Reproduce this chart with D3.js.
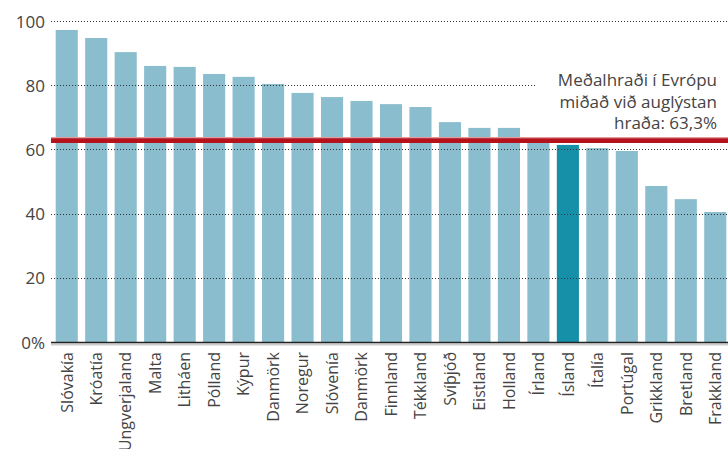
<!DOCTYPE html>
<html>
<head>
<meta charset="utf-8">
<script src="https://cdn.jsdelivr.net/npm/d3@7"></script>
<style>
  body { margin: 0; background: #fff; }
  text { font-family: "Open Sans", sans-serif; fill: #444; }
</style>
</head>
<body>
<script>
// Chart size
const WIDTH = 728;
const HEIGHT = 449;

// Data
const countries = ["Slóvakía", "Króatía", "Ungverjaland", "Malta", "Litháen", "Pólland", "Kýpur",
  "Danmörk", "Noregur", "Slóvenía", "Danmörk ", "Finnland", "Tékkland", "Svíþjóð", "Eistland",
  "Holland", "Írland", "Ísland", "Ítalía", "Portúgal", "Grikkland", "Bretland", "Frakkland"];
const speeds = [97.2, 94.7, 90.3, 86.0, 85.7, 83.5, 82.6, 80.4, 77.6, 76.3, 75.1, 74.1, 73.2,
  68.5, 66.7, 66.7, 62.8, 61.4, 60.4, 59.5, 48.6, 44.5, 40.5];
const highlight = "Ísland";
const yTicks = [0, 20, 40, 60, 80, 100];
const average = 63.3;
const noteLines = ["Meðalhraði í Evrópu", "miðað við auglýstan", "hraða: 63,3%"];

const svg = d3.select("body").append("svg").attr("width", WIDTH).attr("height", HEIGHT);

// Scales
const x = d3.scaleBand().domain(countries).range([52, 730]).paddingInner(0.25).paddingOuter(0.125);
const y = d3.scaleLinear().domain([0, 100]).range([342, 21]);

// Bars
svg.selectAll("rect.bar").data(countries)
  .enter().append("rect")
  .attr("class", "bar")
  .attr("x", d => x(d))
  .attr("width", x.bandwidth())
  .attr("y", (d, i) => y(speeds[i]))
  .attr("height", (d, i) => y(0) - y(speeds[i]))
  .attr("fill", d => d === highlight ? "#1690a8" : "#8abdcd");

// Dotted grid lines on top of the bars
svg.selectAll("line.grid").data(yTicks.filter(t => t > 0))
  .enter().append("line")
  .attr("class", "grid")
  .attr("x1", 51).attr("x2", WIDTH)
  .attr("y1", d => Math.round(y(d)) + 0.5).attr("y2", d => Math.round(y(d)) + 0.5)
  .attr("stroke", "#333")
  .attr("stroke-width", 1)
  .attr("stroke-dasharray", "1,2");

// Y axis labels
const yAxis = svg.append("g").attr("transform", "translate(45,0)")
  .call(d3.axisLeft(y).tickValues(yTicks).tickSize(0).tickPadding(0)
    .tickFormat(d => d === 0 ? "0%" : d));
yAxis.select(".domain").remove();
yAxis.selectAll("text").style("font-size", "17px").attr("fill", "#444").attr("dy", "0.36em");

// Base line
svg.append("line").attr("x1", 51).attr("x2", WIDTH).attr("y1", 344.5).attr("y2", 344.5)
  .attr("stroke", "#ccc").attr("stroke-width", 2);
svg.append("line").attr("x1", 51).attr("x2", WIDTH).attr("y1", 342.5).attr("y2", 342.5)
  .attr("stroke", "#222").attr("stroke-width", 1.5);

// X axis labels
const xAxis = svg.append("g").attr("transform", "translate(0,346)")
  .call(d3.axisBottom(x).tickSize(0).tickPadding(0).tickFormat(d => d.trim()));
xAxis.select(".domain").remove();
xAxis.selectAll("text")
  .style("font-size", "16px")
  .attr("fill", "#444")
  .attr("transform", "rotate(-90)")
  .attr("text-anchor", "end")
  .attr("x", -6)
  .attr("y", 0)
  .attr("dy", "0.36em");

// Note box hides the grid behind the text
svg.append("rect").attr("x", 537).attr("y", 66).attr("width", WIDTH - 537).attr("height", 68)
  .attr("fill", "#fff");

// Average line: thin pale edge on top, dark red band below
svg.append("line").attr("x1", 51).attr("x2", WIDTH)
  .attr("y1", y(average) - 1).attr("y2", y(average) - 1)
  .attr("stroke", "#e39a9e").attr("stroke-width", 1.5);
svg.append("line").attr("x1", 51).attr("x2", WIDTH)
  .attr("y1", y(average) + 1.8).attr("y2", y(average) + 1.8)
  .attr("stroke", "#b5121b").attr("stroke-width", 4.8);

// Note text
svg.append("text")
  .attr("text-anchor", "end")
  .style("font-size", "17px")
  .selectAll("tspan").data(noteLines)
  .enter().append("tspan")
  .attr("x", 717)
  .attr("y", (d, i) => 86 + i * 21.5)
  .text(d => d);
</script>
</body>
</html>
